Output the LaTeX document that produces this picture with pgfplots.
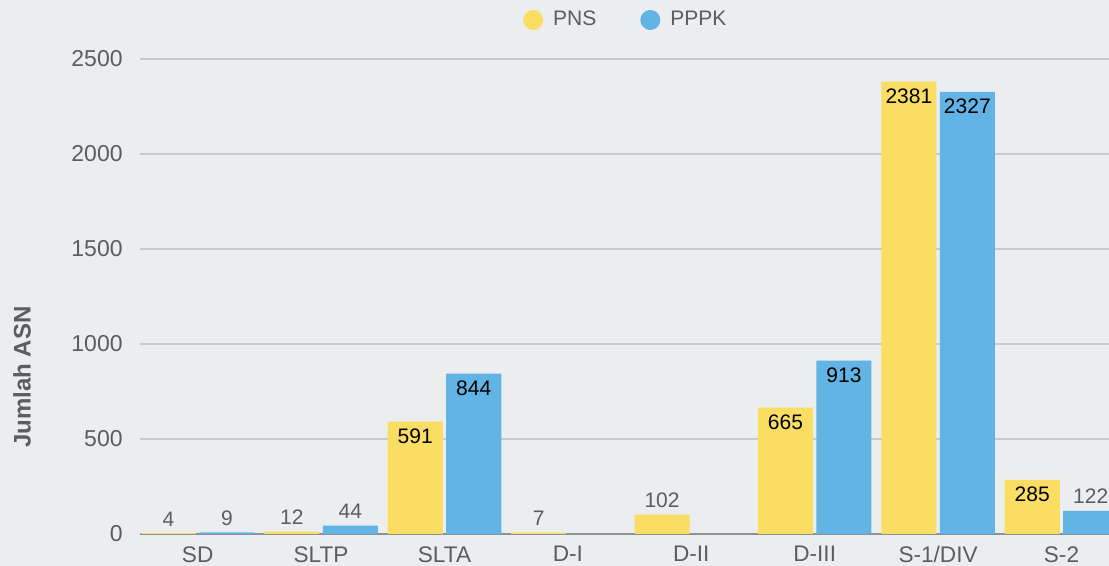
\documentclass[border=0pt]{standalone}
\usepackage{pgfplots}
\pgfplotsset{compat=1.18}
\usepackage{pgfplotstable}
\usepackage{fontspec}
\setmainfont{Liberation Sans}
\definecolor{bgc}{HTML}{ECEDEF}
\definecolor{pns}{HTML}{FADE64}
\definecolor{pppk}{HTML}{62B4E4}
\definecolor{txt}{HTML}{595E62}
\definecolor{gridc}{HTML}{C8C9CC}
\definecolor{zeroc}{HTML}{8E9093}

\pgfplotstableread{
x y
0 4
1 12
2 591
3 7
4 102
5 665
6 2381
7 285
}\pnsdata
\pgfplotstableread{
x y
0 9
1 44
2 844
5 913
6 2327
7 122
}\pppkdata

\begin{document}
\begin{tikzpicture}
\fill[bgc] (-70.25pt,-16pt) rectangle (484.25pt,267pt);
\begin{axis}[
  at={(0,0)}, anchor=south west,
  scale only axis, width=484.25pt, height=237.5pt,
  xmin=-0.4635, xmax=7.385, ymin=0, ymax=2500,
  ybar, bar width=0.446,
  axis line style={draw=none},
  major tick length=0pt,
  xtick={0,...,7},
  xticklabels={SD,SLTP,SLTA,D-I,D-II,D-III,S-1/DIV,S-2},
  ytick={500,1000,...,2500},
  extra y ticks={0},
  extra y tick style={grid style={draw=zeroc, line width=1pt}},
  ymajorgrids, grid style={draw=gridc, line width=0.75pt},
  tick label style={text=txt},
  xticklabel style={font=\fontsize{11.3}{13}\selectfont, anchor=north, inner sep=0pt, yshift=-6pt},
  yticklabel style={font=\fontsize{11.5}{13}\selectfont, anchor=east, inner sep=0pt, xshift=-8.75pt},
  /pgf/number format/assume math mode=true,
  /pgf/number format/1000 sep={},
  ylabel={Jumlah ASN},
  every axis y label/.style={at={(axis description cs:-0.1224,0.3305)}, rotate=90, anchor=center, font=\bfseries\fontsize{12}{14}\selectfont, text=txt},
  legend style={draw=none, fill=none, at={(0.5,1)}, anchor=center, yshift=19.5pt, xshift=1pt,
    font=\fontsize{10.5}{12}\selectfont, text=txt,
    /tikz/every odd column/.append style={column sep=3pt},
    /tikz/every even column/.append style={column sep=20pt}},
  legend columns=2,
  nodes near coords,
  every node near coord/.append style={font=\fontsize{10.5}{12}\selectfont},
  coordinate style/.condition={y > 200}{anchor=north, text=black},
  coordinate style/.condition={y <= 200}{text=txt},
]
\addplot[fill=pns, draw=none, bar shift=-0.237,
  legend image code/.code={\fill[pns] (0pt,0pt) circle (5pt);}] table[x=x,y=y] {\pnsdata};
\addlegendentry{PNS}
\addplot[fill=pppk, draw=none, bar shift=0.237,
  legend image code/.code={\fill[pppk] (0pt,0pt) circle (5pt);}] table[x=x,y=y] {\pppkdata};
\addlegendentry{PPPK}
\end{axis}
\pgfresetboundingbox
\useasboundingbox (-70.25pt,-16pt) rectangle (484.25pt,267pt);
\end{tikzpicture}
\end{document}
